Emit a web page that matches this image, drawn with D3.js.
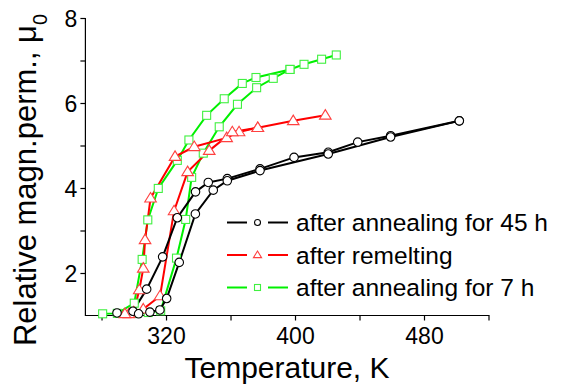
<!DOCTYPE html>
<html>
  <head>
    <title>Relative permeability</title>
    <script type="text/javascript" src="https://d3js.org/d3.v7.min.js"></script>
    <style>
      body { margin: 0; background: #fff; }
      svg text { font-family: Arial, "Liberation Sans", sans-serif; fill: #000; }
    </style>
  </head>
  <body>
    <svg width="570" height="385" class="chart"></svg>

    <script type="text/javascript">
      // each sample: cooling branch (left) + heating branch (right)
      var seriesNames = ['after annealing for 45 h', 'after remelting', 'after annealing for 7 h'];

      var t45Cool  = [501.9, 459.3, 438.9, 420.6, 399.4, 378.3, 358, 346.2, 338.3, 327, 317.9, 308, 299.5, 289.6];
      var mu45Cool = [5.58, 5.23, 5.08, 4.84, 4.72, 4.45, 4.22, 4.13, 3.91, 3.30, 2.38, 1.62, 1.10, 1.06];
      var t45Heat  = [303, 310, 316.2, 320.4, 328.2, 338.2, 349.3, 358, 378.3, 420.6, 459.3, 501.9];
      var mu45Heat = [1.04, 1.08, 1.13, 1.40, 2.25, 3.39, 3.95, 4.17, 4.41, 4.80, 5.20, 5.58];

      var tRemCool  = [418.8, 398.9, 376.9, 365.3, 357.6, 337.5, 325.6, 310.4, 307, 305.9, 303.4, 300, 297];
      var muRemCool = [5.71, 5.58, 5.42, 5.32, 5.18, 4.97, 4.74, 3.76, 2.78, 2.11, 1.60, 1.08, 1.04];
      var tRemHeat  = [294.5, 305.9, 316.3, 325, 333.4, 346.8, 361.1, 376.9];
      var muRemHeat = [1.04, 1.15, 1.46, 3.46, 4.38, 4.88, 5.32, 5.42];

      var t7Cool  = [425.6, 416.5, 405.6, 396.9, 375.8, 367.3, 356.1, 345.2, 334.2, 327, 315.2, 308.7, 305.2, 300.3, 289.8, 280.7];
      var mu7Cool = [7.13, 7.03, 6.91, 6.79, 6.60, 6.46, 6.10, 5.71, 5.13, 4.65, 3.99, 3.25, 2.32, 1.29, 1.05, 1.04];
      var t7Heat  = [301.8, 309, 316.7, 326.5, 332.2, 335.9, 343.1, 353, 364.3, 376.2, 386.5, 396.9];
      var mu7Heat = [1.05, 1.07, 1.11, 2.35, 3.26, 4.25, 4.82, 5.44, 5.97, 6.36, 6.58, 6.79];

      var xTicks = [280, 320, 360, 400, 440, 480, 520];
      var xLabels = [320, 400, 480];
      var yTicks = [2, 3, 4, 5, 6, 7, 8];
      var yLabels = [2, 4, 6, 8];

      function pts(t, mu) {
        return t.map(function(d, i) { return { t: d, mu: mu[i] }; });
      }

      var series = [
        { name: seriesNames[0], line: '#000000', mark: '#000000', shape: 'circle',
          branches: [pts(t45Cool, mu45Cool), pts(t45Heat, mu45Heat)] },
        { name: seriesNames[1], line: '#ff0000', mark: '#ff4040', shape: 'triangle',
          branches: [pts(tRemCool, muRemCool), pts(tRemHeat, muRemHeat)] },
        { name: seriesNames[2], line: '#00f000', mark: '#40f040', shape: 'square',
          branches: [pts(t7Cool, mu7Cool), pts(t7Heat, mu7Heat)] }
      ];

      var x = d3.scaleLinear().domain([270, 520]).range([85.4, 488.5]);
      var y = d3.scaleLinear().domain([1, 8]).range([315.5, 18]);

      var svg = d3.select('svg.chart');

      // axes: left and bottom only
      var xAxis = d3.axisBottom(x).tickValues(xTicks).tickSize(5)
                    .tickFormat(function(d) { return xLabels.indexOf(d) >= 0 ? d : ''; });
      var yAxis = d3.axisLeft(y).tickValues(yTicks).tickSize(5)
                    .tickFormat(function(d) { return yLabels.indexOf(d) >= 0 ? d : ''; });

      var gx = svg.append('g').attr('transform', 'translate(0,' + y(1) + ')').call(xAxis);
      gx.select('.domain').attr('d', 'M' + x(270) + ',0H' + (x(520) + 1));
      gx.selectAll('text').style('font-size', '23px').attr('dy', '0.95em').attr('y', 7);

      var gy = svg.append('g').attr('transform', 'translate(' + x(270) + ',0)').call(yAxis);
      gy.select('.domain').attr('d', 'M0,' + y(8) + 'V' + (y(1) + 0.5));
      gy.selectAll('text').style('font-size', '23px').attr('x', -8).attr('dy', '0.36em');

      svg.selectAll('.domain, .tick line').attr('stroke', '#000').attr('stroke-width', 1.2);

      svg.append('text')
         .attr('x', 287).attr('y', 378)
         .attr('text-anchor', 'middle')
         .style('font-size', '30px')
         .text('Temperature, K');

      var yt = svg.append('text')
         .attr('transform', 'translate(36,180) rotate(-90)')
         .attr('text-anchor', 'middle')
         .style('font-size', '31px');
      yt.append('tspan').text('Relative magn.perm., \u03bc');
      yt.append('tspan').attr('baseline-shift', 'sub').style('font-size', '20px').text('0');

      var line = d3.line()
                   .x(function(d) { return x(d.t); })
                   .y(function(d) { return y(d.mu); });

      function drawMarker(g, shape, color, size) {
        if (shape === 'circle') {
          g.append('circle').attr('r', size * 0.5)
           .attr('fill', '#fff').attr('stroke', color).attr('stroke-width', 1.1);
        } else if (shape === 'square') {
          g.append('rect').attr('x', -size / 2).attr('y', -size / 2)
           .attr('width', size).attr('height', size)
           .attr('fill', '#fff').attr('stroke', color).attr('stroke-width', 1.1);
        } else {
          var h = size * 0.95;
          g.append('path')
           .attr('d', 'M0,' + (-h * 0.6) + 'L' + (size * 0.58) + ',' + (h * 0.4) + 'L' + (-size * 0.58) + ',' + (h * 0.4) + 'Z')
           .attr('fill', '#fff').attr('stroke', color).attr('stroke-width', 1.1);
        }
      }

      var plot = svg.append('g');

      // green drawn first, black last (as in the picture)
      series.slice().reverse().forEach(function(s) {
        s.branches.forEach(function(b) {
          plot.append('path').datum(b)
              .attr('d', line)
              .attr('fill', 'none')
              .attr('stroke', s.line)
              .attr('stroke-width', 2);
        });
      });
      series.slice().reverse().forEach(function(s) {
        var size = s.shape === 'circle' ? 8.5 : (s.shape === 'square' ? 8 : 10);
        s.branches.forEach(function(b) {
          plot.selectAll(null).data(b).enter().append('g')
              .attr('transform', function(d) { return 'translate(' + x(d.t) + ',' + y(d.mu) + ')'; })
              .each(function() { drawMarker(d3.select(this), s.shape, s.mark, size); });
        });
      });

      // legend
      var legend = svg.append('g').attr('class', 'legend');
      series.forEach(function(s, i) {
        var cy = 222.5 + i * 32.5;
        var row = legend.append('g');
        row.append('line').attr('x1', 227).attr('x2', 247).attr('y1', cy).attr('y2', cy)
           .attr('stroke', s.line).attr('stroke-width', 2);
        row.append('line').attr('x1', 268).attr('x2', 288).attr('y1', cy).attr('y2', cy)
           .attr('stroke', s.line).attr('stroke-width', 2);
        var m = row.append('g').attr('transform', 'translate(257.5,' + cy + ')');
        drawMarker(m, s.shape, s.mark, s.shape === 'triangle' ? 7 : 6);
        row.append('text').attr('x', 296).attr('y', cy).attr('dy', '0.36em')
           .style('font-size', '24.5px').text(s.name);
      });
    </script>
  </body>
</html>
